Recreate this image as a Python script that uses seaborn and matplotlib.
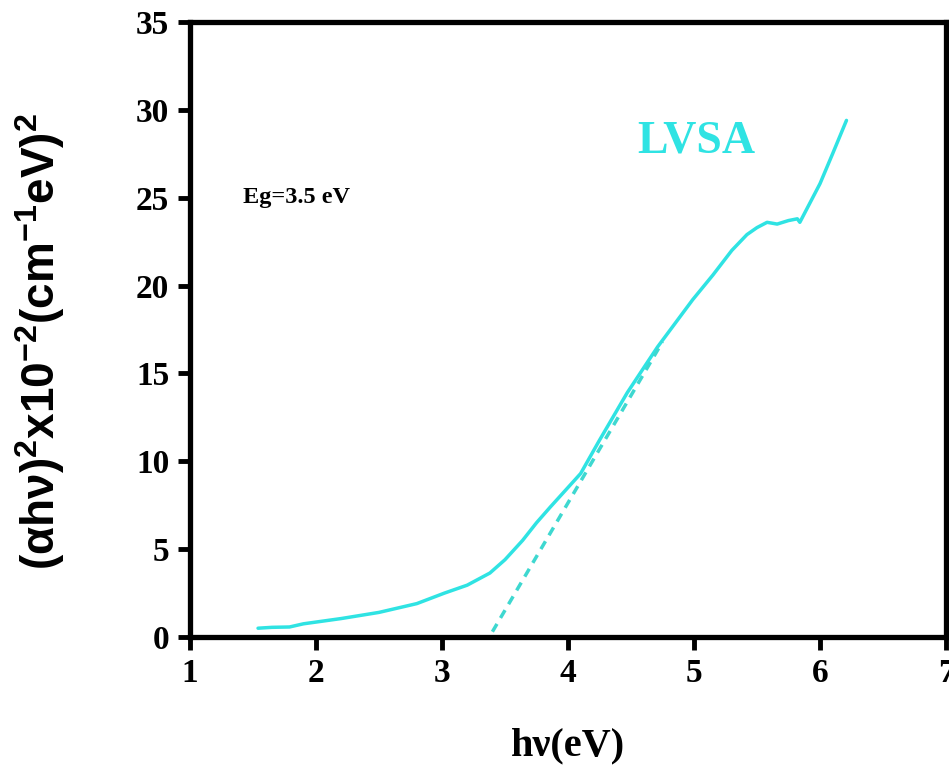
import numpy as np
import pandas as pd
import matplotlib
matplotlib.use("Agg")
import matplotlib.pyplot as plt
import seaborn as sns

# Data
energy = [1.54, 1.65, 1.79, 1.9, 2.0, 2.2, 2.5, 2.8, 3.02, 3.2, 3.38, 3.5, 3.64, 3.75, 3.86,
          4.10, 4.25, 4.47, 4.71, 4.99, 5.15, 5.30, 5.42, 5.5, 5.58, 5.66, 5.75, 5.82, 5.84,
          5.92, 6.0, 6.10, 6.21]
alpha_hv2 = [0.5, 0.55, 0.57, 0.75, 0.85, 1.05, 1.4, 1.9, 2.5, 2.95, 3.64, 4.4, 5.5, 6.5, 7.4,
             9.3, 11.2, 13.9, 16.5, 19.2, 20.6, 22.0, 22.9, 23.3, 23.6, 23.5, 23.7, 23.8, 23.6,
             24.7, 25.8, 27.5, 29.4]
fit_x = [3.40, 4.75]
fit_y = [0.3, 16.8]

x_ticks = [1, 2, 3, 4, 5, 6, 7]
y_ticks = [0, 5, 10, 15, 20, 25, 30, 35]

sns.set_theme(style="white")
plt.rcParams['font.family'] = ['Liberation Serif', 'DejaVu Serif']
plt.rcParams['mathtext.default'] = 'regular'
plt.rcParams['text.color'] = 'black'

cyan = '#2FE3E3'
teal = '#3ED8D0'

fig = plt.figure(figsize=(9.49, 7.67), dpi=100)
ax = fig.add_axes([190/949, 1-637/767, (946-190)/949, (637-22)/767])

df = pd.DataFrame({'E': energy, 'A': alpha_hv2})
sns.lineplot(data=df, x='E', y='A', ax=ax, color=cyan, linewidth=2.5, sort=False)
fit = pd.DataFrame({'E': fit_x, 'A': fit_y})
sns.lineplot(data=fit, x='E', y='A', ax=ax, color=teal, linewidth=2.5, linestyle=(0, (2.6, 2.0)))

ax.set_xlim(1, 7)
ax.set_ylim(0, 35)
ax.set_xticks(x_ticks)
ax.set_yticks(y_ticks)
ax.set_xticklabels([str(t) for t in x_ticks], fontsize=24, fontweight='bold', color='black')
ax.set_yticklabels([str(t) for t in y_ticks], fontsize=24, fontweight='bold', color='black')
ax.tick_params(axis='both', direction='out', length=9, width=3.5, color='black',
               bottom=True, left=True, pad=6)
for sp in ax.spines.values():
    sp.set_visible(True)
    sp.set_linewidth(3.8)
    sp.set_color('black')

ax.set_xlabel('hν(eV)', fontsize=29, fontweight='bold', labelpad=28, color='black')
ax.set_ylabel(r'(αhν)$^{2}$x10$^{-2}$(cm$^{-1}$eV)$^{2}$', fontsize=33, fontweight='bold',
              family=['Liberation Sans', 'DejaVu Sans'], color='black')
ax.yaxis.set_label_coords(-0.163, 0.48)

ax.text(5.02, 28.2, 'LVSA', color=cyan, fontsize=33, fontweight='bold',
        ha='center', va='center')
ax.text(1.42, 25.0, 'Eg=3.5 eV', color='black', fontsize=17.5, fontweight='bold',
        ha='left', va='center')

fig.savefig('out.png', dpi=100)
